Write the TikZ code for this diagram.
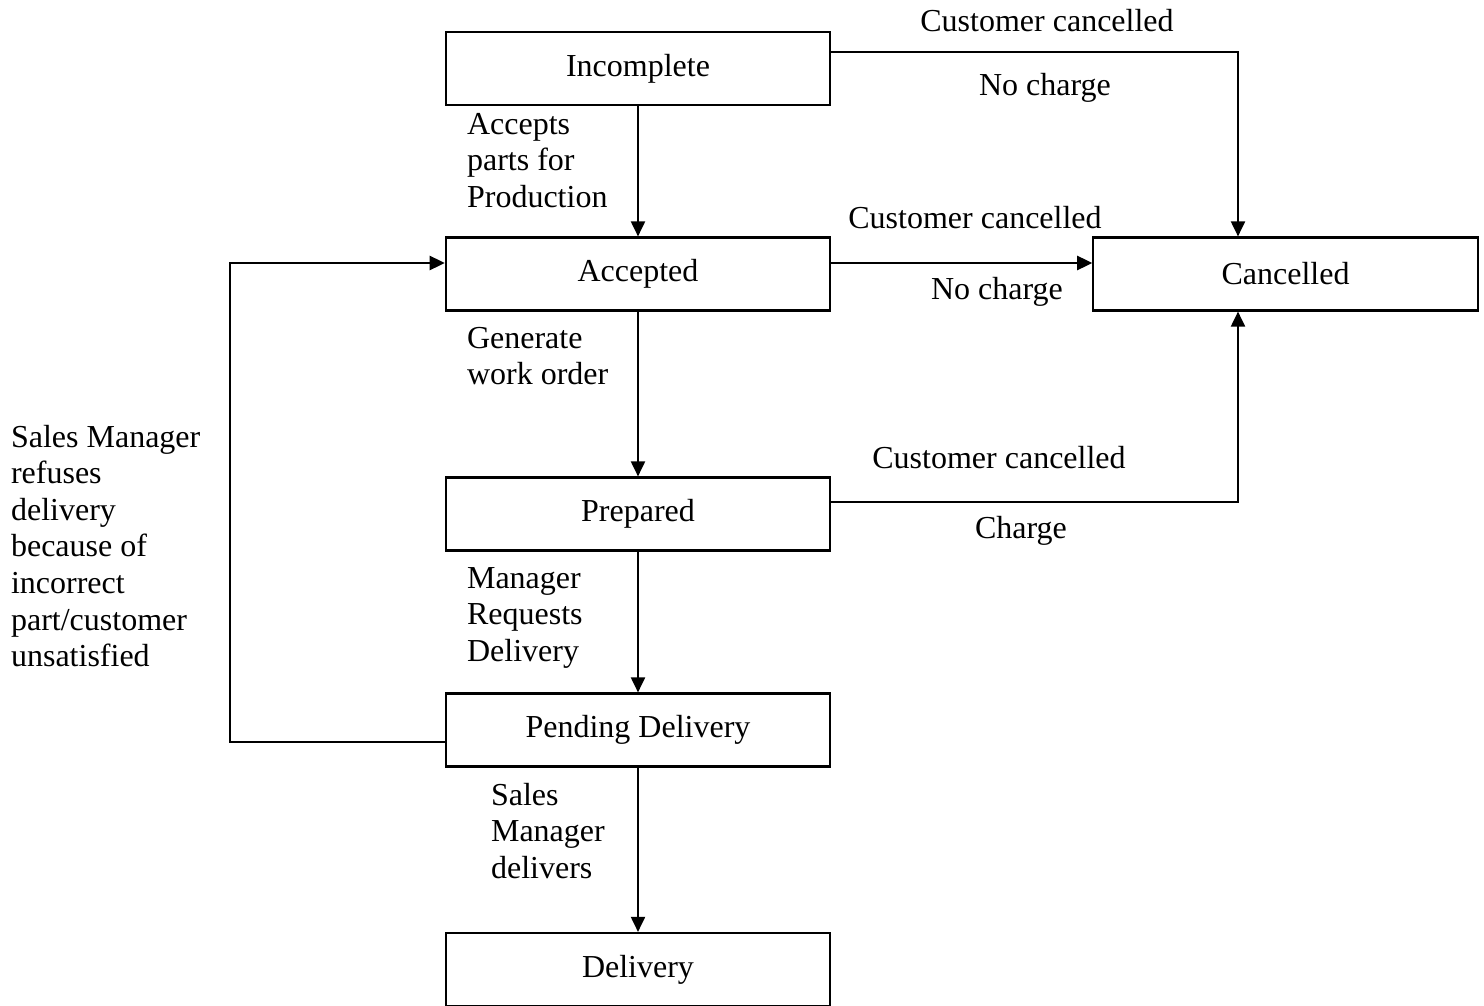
\documentclass[tikz,border=0pt]{standalone}
\usepackage{fontspec}
\setmainfont{Liberation Serif}
\usetikzlibrary{arrows.meta, positioning}
\tikzset{
  every picture/.style={line width=0.6pt},
  box/.style={draw, minimum width=3.84cm, minimum height=0.73cm, inner sep=0pt, font=\fontsize{9.1}{10.4}\selectfont},
  arrow/.style={-{Triangle[length=4.3pt, width=4pt]}},
  note/.style={font=\fontsize{9.1}{10.4}\selectfont, inner sep=0pt},
  lnote/.style={note, align=left, anchor=north west},
}
\begin{document}
\begin{tikzpicture}[x=0.01cm, y=-0.01cm]
  \useasboundingbox (0,0) rectangle (1484,1006);
  % states
  \node[box] (inc) at (638,68.5) {Incomplete};
  \node[box] (acc) at (638,274) {Accepted};
  \node[box] (pre) at (638,514) {Prepared};
  \node[box] (pen) at (638,730) {Pending Delivery};
  \node[box] (del) at (638,969.5) {Delivery};
  \node[box] (can) at (1285.5,274) {Cancelled};
  % helper coordinates
  \coordinate (cx) at (1238,0);
  \coordinate (lx) at (230,0);
  \coordinate (ay) at (0,263);
  % main line
  \draw[arrow] (inc) -- (acc);
  \draw[arrow] (acc) -- (pre);
  \draw[arrow] (pre) -- (pen);
  \draw[arrow] (pen) -- (del);
  \node[lnote] (l1) at (466,112) {Accepts\\parts for\\Production};
  \node[lnote] (l2) at (466,326) {Generate\\work order};
  \node[lnote] (l3) at (466,566) {Manager\\Requests\\Delivery};
  \node[lnote] (l4) at (490,782) {Sales\\Manager\\delivers};
  % cancellations
  \draw[arrow] (inc.east |- 0,52) -| (can.north -| cx);
  \draw[arrow] (acc.east |- ay) -- (can.west |- ay);
  \draw[arrow] (pre.east |- 0,502) -| (can.south -| cx);
  \node[note] (c1) at (1047,21) {Customer cancelled};
  \node[note] (n1) at (1045,88) {No charge};
  \node[note] (c2) at (975,218) {Customer cancelled};
  \node[note] (n2) at (997,292) {No charge};
  \node[note] (c3) at (999,458) {Customer cancelled};
  \node[note] (n3) at (1021,531) {Charge};
  % refused delivery
  \draw[arrow] (pen.west |- 0,742) -| (lx |- 0,500) |- (acc.west |- ay);
  \node[lnote] (l5) at (10,424) {Sales Manager\\refuses\\delivery\\because of\\incorrect\\part/customer\\unsatisfied};
\end{tikzpicture}
\end{document}
